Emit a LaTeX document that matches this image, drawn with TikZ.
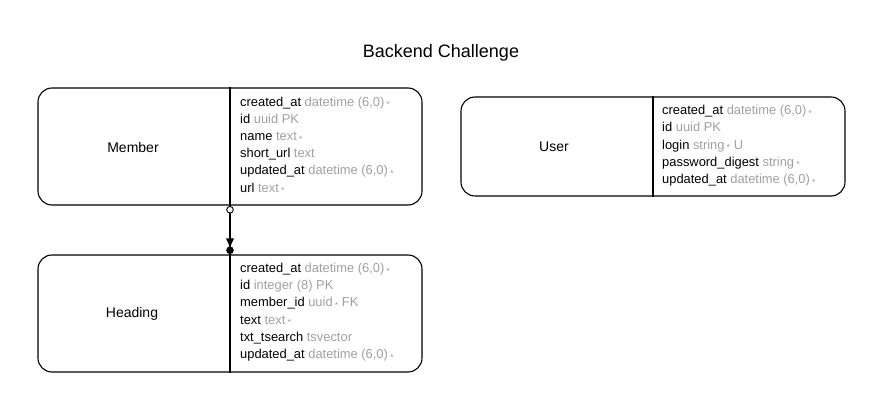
\documentclass[tikz,border=0pt]{standalone}
\usepackage{fontspec}
\setmainfont{Liberation Sans}
\usetikzlibrary{calc}
\definecolor{typegray}{HTML}{A0A0A0}
\newcommand{\req}{\,{\raisebox{-0.12em}{\fontsize{9}{9}\selectfont *}}}
\newcommand{\fld}[2]{#1 {\color{typegray}#2}}
\begin{document}
\begin{tikzpicture}[x=1pt,y=-1pt,
  entity/.style={draw, line width=1.1pt, rounded corners=14pt, inner sep=0pt},
  ename/.style={font=\fontsize{14}{16}\selectfont, inner sep=0pt},
  field/.style={anchor=base west, inner sep=0pt, font=\fontsize{12.9}{15}\selectfont},
  divider/.style={line width=1.1pt},
  rel/.style={line width=1.1pt}]
\useasboundingbox (0,0) rectangle (883,411);
\node[font=\fontsize{18}{20}\selectfont, inner sep=0pt] (title) at (441,52.5) {Backend Challenge};

% Member
\node[entity, minimum width=384pt, minimum height=117pt] (member) at (230,146.5) {};
\coordinate (mdiv) at (230,146.5);
\draw[divider] (mdiv |- member.north) -- (mdiv |- member.south);
\node[ename] (memberlbl) at (133,147) {Member};
\foreach \t [count=\i from 0] in {
  {\fld{created\_at}{datetime (6,0)\req}},
  {\fld{id}{uuid PK}},
  {\fld{name}{text\req}},
  {\fld{short\_url}{text}},
  {\fld{updated\_at}{datetime (6,0)\req}},
  {\fld{url}{text\req}}}
  \node[field] (mf\i) at (240,106.3+17.15*\i) {\t};

% User
\node[entity, minimum width=384pt, minimum height=99pt] (user) at (653,146.5) {};
\coordinate (udiv) at (653,146.5);
\draw[divider] (udiv |- user.north) -- (udiv |- user.south);
\node[ename] (userlbl) at (554,147) {User};
\foreach \t [count=\i from 0] in {
  {\fld{created\_at}{datetime (6,0)\req}},
  {\fld{id}{uuid PK}},
  {\fld{login}{string\req\ U}},
  {\fld{password\_digest}{string\req}},
  {\fld{updated\_at}{datetime (6,0)\req}}}
  \node[field] (uf\i) at (662,114.6+17.25*\i) {\t};

% Heading
\node[entity, minimum width=384pt, minimum height=117pt] (heading) at (230,313.5) {};
\coordinate (hdiv) at (230,313.5);
\draw[divider] (hdiv |- heading.north) -- (hdiv |- heading.south);
\node[ename] (headinglbl) at (132,314) {Heading};
\foreach \t [count=\i from 0] in {
  {\fld{created\_at}{datetime (6,0)\req}},
  {\fld{id}{integer (8) PK}},
  {\fld{member\_id}{uuid\req\ FK}},
  {\fld{text}{text\req}},
  {\fld{txt\_tsearch}{tsvector}},
  {\fld{updated\_at}{datetime (6,0)\req}}}
  \node[field] (hf\i) at (240,272.5+17.25*\i) {\t};

% relation
\coordinate (mbot) at (mdiv |- member.south);
\coordinate (htop) at (hdiv |- heading.north);
\draw[rel] (mbot) -- (htop);
\draw[line width=0.9pt, fill=white] ($(mbot)+(0,4.2)$) circle (3.3pt);
\fill ($(htop)+(-4,-16)$) -- ($(htop)+(4,-16)$) -- ($(htop)+(0,-7.5)$) -- cycle;
\fill ($(htop)+(0,-4.2)$) circle (3.8pt);
\end{tikzpicture}
\end{document}
